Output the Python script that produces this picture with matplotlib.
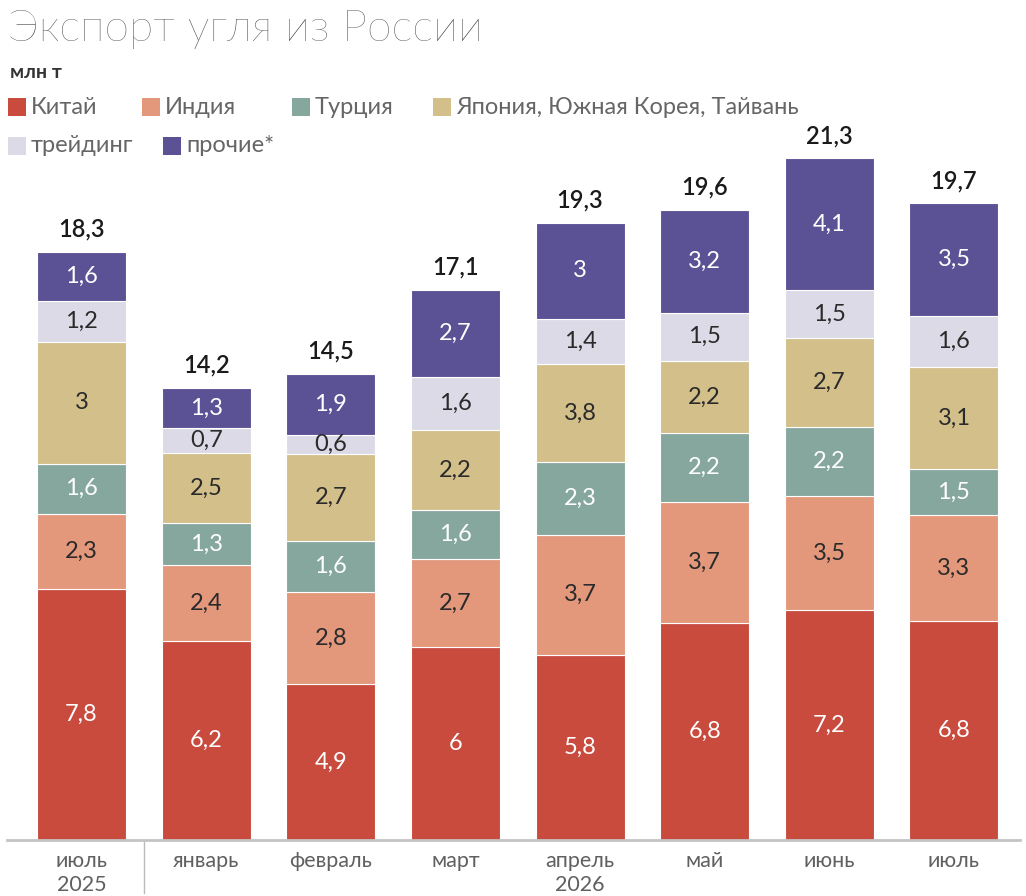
import matplotlib
matplotlib.use("Agg")
import matplotlib.pyplot as plt
from matplotlib.patches import Rectangle
import numpy as np

plt.rcParams['font.family'] = ['Lato', 'DejaVu Sans']

# ---- data ----
months = ['июль\n2025', 'январь', 'февраль', 'март', 'апрель\n2026', 'май', 'июнь', 'июль']
series_names = ['Китай', 'Индия', 'Турция', 'Япония, Южная Корея, Тайвань', 'трейдинг', 'прочие*']

# segment heights as drawn (mln t)
china   = [7.8, 6.2, 4.85, 6.0, 5.75, 6.75, 7.15, 6.8]
india   = [2.35, 2.35, 2.85, 2.75, 3.75, 3.75, 3.55, 3.3]
turkey  = [1.55, 1.3, 1.6, 1.5, 2.25, 2.15, 2.15, 1.45]
japan   = [3.8, 2.2, 2.7, 2.5, 3.05, 2.25, 2.75, 3.15]
trading = [1.25, 0.75, 0.6, 1.65, 1.4, 1.5, 1.5, 1.6]
others  = [1.55, 1.25, 1.9, 2.7, 3.0, 3.2, 4.1, 3.5]

# labels printed on the chart
china_lbl   = ['7,8', '6,2', '4,9', '6', '5,8', '6,8', '7,2', '6,8']
india_lbl   = ['2,3', '2,4', '2,8', '2,7', '3,7', '3,7', '3,5', '3,3']
turkey_lbl  = ['1,6', '1,3', '1,6', '1,6', '2,3', '2,2', '2,2', '1,5']
japan_lbl   = ['3', '2,5', '2,7', '2,2', '3,8', '2,2', '2,7', '3,1']
trading_lbl = ['1,2', '0,7', '0,6', '1,6', '1,4', '1,5', '1,5', '1,6']
others_lbl  = ['1,6', '1,3', '1,9', '2,7', '3', '3,2', '4,1', '3,5']
total_lbl   = ['18,3', '14,2', '14,5', '17,1', '19,3', '19,6', '21,3', '19,7']

colors = ['#C84B3E', '#E3987C', '#86A79E', '#D2BF8A', '#DCDAE6', '#5B5296']
text_colors = ['white', '#2a2a2a', 'white', '#2a2a2a', '#2a2a2a', 'white']

W, H = 1026, 896
fig = plt.figure(figsize=(W / 100, H / 100), dpi=100)
fig.patch.set_facecolor('white')

ax = fig.add_axes([7 / W, 56 / H, (1020 - 7) / W, 700 / H])
x = np.arange(len(months))
width = 0.714

stack = [china, india, turkey, japan, trading, others]
labels = [china_lbl, india_lbl, turkey_lbl, japan_lbl, trading_lbl, others_lbl]
bottom = np.zeros(len(months))
for vals, lbls, col, tcol in zip(stack, labels, colors, text_colors):
    vals = np.array(vals)
    ax.bar(x, vals, width, bottom=bottom, color=col, edgecolor='white', linewidth=0.8)
    for xi, b, v, t in zip(x, bottom, vals, lbls):
        ax.text(xi, b + v / 2, t, ha='center', va='center', fontsize=17, color=tcol)
    bottom = bottom + vals

for xi, top, t in zip(x, bottom, total_lbl):
    ax.text(xi, top + 0.35, t, ha='center', va='bottom', fontsize=17, fontweight='semibold',
            color='#1a1a1a')

ax.set_xlim(-0.598, 7.53)
ax.set_ylim(0, 21.77)
ax.set_yticks([])
for s in ['top', 'right', 'left']:
    ax.spines[s].set_visible(False)
ax.spines['bottom'].set_color('#C4C4C4')
ax.spines['bottom'].set_linewidth(2)
ax.set_xticks(x)
ax.set_xticklabels(months, fontsize=15.5, color='#606060', linespacing=1.25)
ax.tick_params(axis='x', length=0, pad=8)

# separator between 2025 and 2026
ax.plot([0.5, 0.5], [0, -0.075], transform=ax.get_xaxis_transform(), color='#BBBBBB',
        lw=1, clip_on=False)

# title & unit
fig.text(8 / W, 1 - 41 / H, 'Экспорт угля из России', fontsize=32, fontweight='light',
         color='#444444', va='baseline', ha='left')
fig.text(10 / W, 1 - 78 / H, 'млн т', fontsize=14, fontweight='bold', color='#333333',
         va='baseline', ha='left')

# legend
legend_pos = [(8, 107), (142, 107), (292, 107), (433, 107), (8, 146), (163, 146)]
sq = 18
for (lx, ly), name, col in zip(legend_pos, series_names, colors):
    fig.patches.append(Rectangle((lx / W, 1 - (ly + sq / 2) / H), sq / W, sq / H,
                                 transform=fig.transFigure, facecolor=col, edgecolor='none'))
    fig.text((lx + sq + 5) / W, 1 - ly / H, name, fontsize=17, color='#666666',
             va='center', ha='left')

fig.savefig('out.png', dpi=100, facecolor='white')
